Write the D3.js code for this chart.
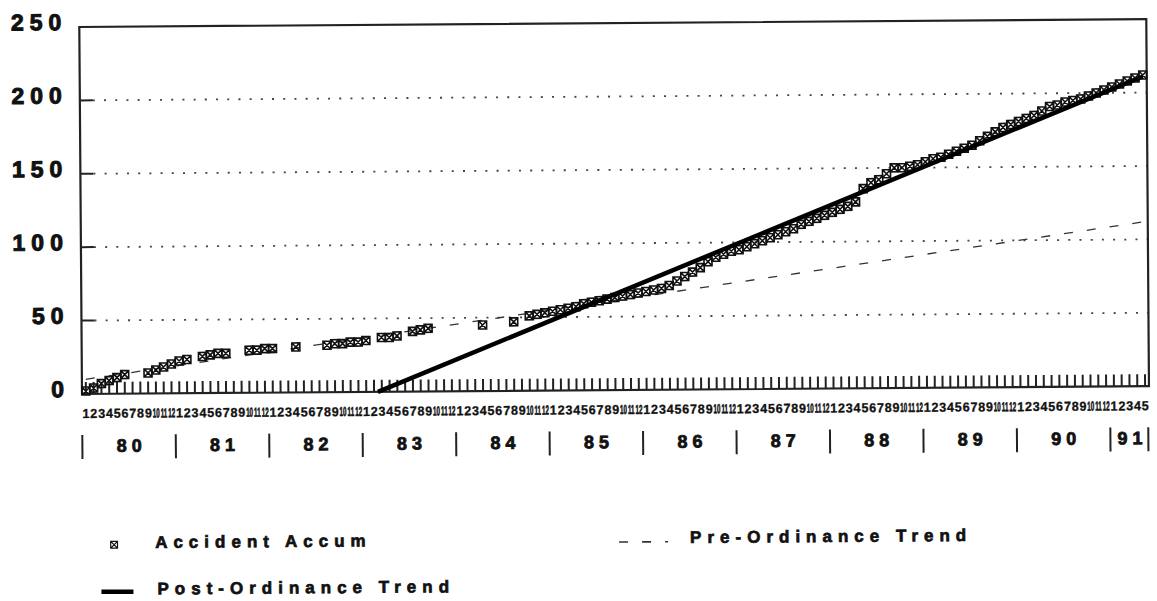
<!DOCTYPE html>
<html>
<head>
<meta charset="utf-8">
<script src="https://cdn.jsdelivr.net/npm/d3@7"></script>
<style>
	html, body { margin: 0; padding: 0; background: #fff; }
	svg { display: block; }
	text { font-family: "Liberation Sans", Arial, sans-serif; font-weight: bold; fill: #111; stroke: #111; }
</style>
</head>
<body>
<div id="chart"></div>
<script>
// values, one per month from Jan 1980 (null = no marker)
var years = ["80", "81", "82", "83", "84", "85", "86", "87", "88", "89", "90", "91"];
var monthLabels = ["1", "2", "3", "4", "5", "6", "7", "8", "9", "10", "11", "12"];
var accidentAccum = [
	2, 4, 7, 9, 11, 13, null, null, 14, 16, 18, 20,
	22, 23, null, 25, 26, 27, 27, null, null, 29, 29, 30,
	30, null, null, 31, null, null, null, 32, 33, 33, 34, 34,
	35, null, 37, 37, 38, null, 41, 42, 43, null, null, null,
	null, null, null, 45, null, null, null, 47, null, 51, 52, 53,
	54, 55, 56, 57, 59, 60, 61, 62, 63, 64, 65, 66,
	67, 68, 69, 71, 74, 77, 80, 83, 87, 90, 92, 94,
	95, 97, 99, 101, 103, 105, 107, 109, 112, 114, 116, 118,
	120, 122, 124, 127, 136, 140, 142, 146, 150, 150, 151, 152,
	154, 156, 157, 159, 161, 163, 165, 168, 171, 174, 177, 179,
	181, 183, 185, 188, 191, 192, 194, 195, 196, 198, 200, 202,
	204, 206, 208, 210, 212
];
var preTrendMonths = [0, 136];
var preTrendValues = [10, 112];
var postTrendMonths = [37.5, 136];
var postTrendValues = [0, 211];
var yTicks = [0, 50, 100, 150, 200, 250];
var gridTicks = [50, 100, 150, 200];

(function() {
	"use strict";

	var width = 1157, height = 601;
	var left = 82, right = 1149, top = 27, bottom = 394;

	// month categories: "1".."12" for each year, cut to the months plotted
	var months = [];
	years.forEach(function(yr) {
		monthLabels.forEach(function(m) {
			months.push({ year: yr, label: m });
		});
	});
	months = months.slice(0, accidentAccum.length);
	months.forEach(function(d, i) { d.i = i; d.value = accidentAccum[i]; });

	var x = d3.scaleLinear()
		.domain([-0.5, months.length - 0.5])
		.range([left, right]);
	var y = d3.scaleLinear()
		.domain([0, 250])
		.range([bottom, top]);
	var step = x(1) - x(0);

	var svg = d3.select("#chart").append("svg")
		.attr("width", width)
		.attr("height", height);

	// the scan is tilted a little, so is the drawing
	var g = svg.append("g")
		.attr("transform", "rotate(-0.42," + left + "," + bottom + ")");

	// dotted grid
	g.selectAll(".grid").data(gridTicks).enter().append("line")
		.attr("x1", left + 13)
		.attr("x2", right)
		.attr("y1", function(d) { return y(d); })
		.attr("y2", function(d) { return y(d); })
		.attr("stroke", "#444")
		.attr("stroke-width", 1.8)
		.attr("stroke-dasharray", "2,9.2");
	g.selectAll(".ytick").data(gridTicks).enter().append("line")
		.attr("x1", left)
		.attr("x2", left + 13)
		.attr("y1", function(d) { return y(d); })
		.attr("y2", function(d) { return y(d); })
		.attr("stroke", "#222")
		.attr("stroke-width", 2);

	// frame
	g.append("rect")
		.attr("x", left)
		.attr("y", top)
		.attr("width", right - left)
		.attr("height", bottom - top)
		.attr("fill", "none")
		.attr("stroke", "#222")
		.attr("stroke-width", 2.2);

	// month ticks pointing into the plot
	g.selectAll(".mtick").data(months).enter().append("line")
		.attr("x1", function(d) { return x(d.i); })
		.attr("x2", function(d) { return x(d.i); })
		.attr("y1", bottom)
		.attr("y2", bottom - 12)
		.attr("stroke", "#222")
		.attr("stroke-width", 2);

	// y labels
	var ls = 6;
	g.selectAll(".ylab").data(yTicks).enter().append("text")
		.attr("x", 64 + ls)
		.attr("y", function(d) { return y(d) + 3; })
		.attr("text-anchor", "end")
		.style("font-size", "23px")
		.style("stroke-width", "1px")
		.style("letter-spacing", ls + "px")
		.text(function(d) { return d; });

	// month labels: narrow enough to sit in one month step, stretched up to full height
	var mFont = 13;
	g.selectAll(".mlab").data(months).enter().append("text")
		.attr("transform", function(d) {
			var fs = Math.min(mFont, (step - 0.8) / (0.556 * d.label.length));
			d.fs = fs;
			return "translate(" + x(d.i) + ",418) scale(1," + (mFont / fs) + ")";
		})
		.attr("text-anchor", "middle")
		.style("font-size", function(d) { return d.fs + "px"; })
		.style("stroke-width", "0.3px")
		.text(function(d) { return d.label; });

	// year labels with bars between them
	var yearSpans = years.map(function(yr, k) {
		var first = k * 12;
		var last = Math.min(first + 11, months.length - 1);
		return { year: yr, x0: x(first - 0.5), x1: x(last + 0.5) };
	});
	var bars = yearSpans.map(function(d) { return d.x0; });
	bars.push(yearSpans[yearSpans.length - 1].x1 - 1);
	g.selectAll(".ybar").data(bars).enter().append("line")
		.attr("x1", function(d) { return d; })
		.attr("x2", function(d) { return d; })
		.attr("y1", 435)
		.attr("y2", 459)
		.attr("stroke", "#222")
		.attr("stroke-width", 2);
	g.selectAll(".yrlab").data(yearSpans).enter().append("text")
		.attr("x", function(d) { return (d.x0 + d.x1) / 2 + 2.5; })
		.attr("y", 452)
		.attr("text-anchor", "middle")
		.style("font-size", "18px")
		.style("stroke-width", "0.8px")
		.style("letter-spacing", "5px")
		.text(function(d) { return d.year; });

	// trend lines
	var line = d3.line()
		.x(function(d) { return x(d[0]); })
		.y(function(d) { return y(d[1]); });

	g.append("path")
		.datum(d3.zip(preTrendMonths, preTrendValues))
		.attr("d", line)
		.attr("fill", "none")
		.attr("stroke", "#333")
		.attr("stroke-width", 1.3)
		.attr("stroke-dasharray", "9,14");

	// accident markers: square with an X
	var marker = "M-4,-4h8v8h-8zM-4,-4L4,4M4,-4L-4,4";
	g.selectAll(".pt").data(months.filter(function(d) { return d.value !== null; }))
		.enter().append("path")
		.attr("transform", function(d) { return "translate(" + x(d.i) + "," + y(d.value) + ")"; })
		.attr("d", marker)
		.attr("fill", "none")
		.attr("stroke", "#111")
		.attr("stroke-width", 1.6);

	g.append("path")
		.datum(d3.zip(postTrendMonths, postTrendValues))
		.attr("d", line)
		.attr("fill", "none")
		.attr("stroke", "#000")
		.attr("stroke-width", 4.5);

	// legend
	var legend = g.append("g")
		.style("font-size", "17px")
		.style("letter-spacing", "6px");
	legend.append("path")
		.attr("transform", "translate(113,545) scale(0.85)")
		.attr("d", marker)
		.attr("fill", "none")
		.attr("stroke", "#111")
		.attr("stroke-width", 1.4);
	legend.append("text").attr("x", 154).attr("y", 548.5)
		.style("stroke-width", "0.7px").text("Accident Accum");

	legend.append("line")
		.attr("x1", 618).attr("x2", 667)
		.attr("y1", 546).attr("y2", 546)
		.attr("stroke", "#333")
		.attr("stroke-width", 1.6)
		.attr("stroke-dasharray", "9,14");
	legend.append("text").attr("x", 689).attr("y", 547.5)
		.style("stroke-width", "0.7px").text("Pre-Ordinance Trend");

	legend.append("line")
		.attr("x1", 100).attr("x2", 132)
		.attr("y1", 592).attr("y2", 592)
		.attr("stroke", "#000")
		.attr("stroke-width", 4.5);
	legend.append("text").attr("x", 156).attr("y", 595)
		.style("stroke-width", "0.7px").text("Post-Ordinance Trend");

})();
</script>
</body>
</html>
